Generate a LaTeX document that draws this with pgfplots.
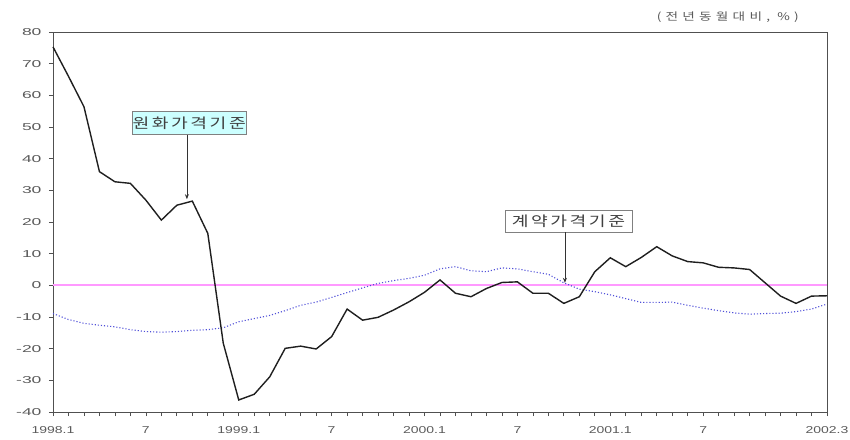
\documentclass[border=0pt]{standalone}
\usepackage{pgfplots}
\pgfplotsset{compat=1.18}
\usetikzlibrary{arrows.meta}
\usepackage{fontspec}
\setmainfont{Liberation Sans}
\newfontfamily\yticks[FakeStretch=1.75]{Liberation Sans}
\newfontfamily\xticks[FakeStretch=1.4]{Liberation Sans}
\newfontfamily\kr[FakeStretch=1.3, LetterSpace=18]{Noto Sans CJK KR}
\newfontfamily\krs[FakeStretch=1.3, LetterSpace=40]{Noto Sans CJK KR}
\definecolor{axisgray}{HTML}{505050}
\definecolor{txtgray}{HTML}{5A5A5A}
\definecolor{dotblue}{HTML}{5050D8}
\definecolor{boxcyan}{HTML}{CCFFFF}
\definecolor{zeropink}{rgb}{1,0.6,1}

% 월별 전년동월대비 증감률 (%), x = 0 (1998.1) ... 50 (2002.3)
\pgfplotstableread{
i won contract
0 75.3 -8.9
1 66.0 -10.8
2 56.4 -12.0
3 35.9 -12.6
4 32.7 -13.1
5 32.2 -14.0
6 26.9 -14.6
7 20.6 -14.8
8 25.3 -14.6
9 26.6 -14.2
10 16.4 -14.0
11 -18.3 -13.4
12 -36.2 -11.5
13 -34.4 -10.5
14 -28.9 -9.5
15 -19.9 -8.0
16 -19.2 -6.3
17 -20.1 -5.3
18 -16.2 -3.8
19 -7.5 -2.3
20 -11.0 -0.8
21 -10.1 0.6
22 -7.8 1.5
23 -5.2 2.2
24 -2.2 3.2
25 1.7 5.2
26 -2.5 5.9
27 -3.6 4.6
28 -1.0 4.3
29 0.9 5.5
30 1.1 5.2
31 -2.5 4.3
32 -2.5 3.5
33 -5.7 0.8
34 -3.6 -1.2
35 4.3 -2.0
36 8.7 -3.0
37 5.9 -4.2
38 8.8 -5.4
39 12.2 -5.4
40 9.3 -5.3
41 7.5 -6.3
42 7.1 -7.2
43 5.7 -8.0
44 5.5 -8.7
45 5.0 -9.1
46 0.8 -8.9
47 -3.4 -8.8
48 -5.7 -8.3
49 -3.4 -7.5
50 -3.3 -5.9
}\datatable

\begin{document}
\begin{tikzpicture}
\useasboundingbox (-53pt,-27pt) rectangle (797pt,412pt);
\begin{axis}[
    scale only axis,
    width=774pt, height=380pt,
    xmin=0, xmax=50,
    ymin=-40, ymax=80,
    axis line style={axisgray, line width=0.9pt},
    tick style={axisgray, line width=0.7pt},
    tick align=outside,
    xtick pos=bottom, ytick pos=left,
    major tick length=4pt, minor tick length=4pt,
    xtick={0,6,12,18,24,30,36,42,50},
    xticklabels={1998.1,7,1999.1,7,2000.1,7,2001.1,7,2002.3},
    minor xtick={0,...,50},
    ytick={-40,-30,...,80},
    yticklabel style={font=\yticks\fontsize{10}{12}\selectfont, text=txtgray, xshift=-4pt},
    xticklabel style={font=\xticks\fontsize{10}{12}\selectfont, text=txtgray, yshift=-7pt},
    /pgf/number format/assume math mode=true,
    clip=false,
]
\addplot[color=zeropink, line width=2pt, mark=none] table[row sep=\\] {x y\\ 0 0\\ 50 0\\};
\addplot[draw=dotblue, dotted, line width=1.1pt] table[x=i, y=contract] {\datatable};
\addplot[draw=black!88, line width=1.4pt] table[x=i, y=won] {\datatable};

\node[draw=gray, fill=boxcyan, minimum width=112pt, minimum height=23pt, inner sep=0pt,
      font=\kr\fontsize{14}{15}\selectfont, text=black!75]
      (b1) at (axis cs:8.8,51.2) {원화가격기준};
\draw[-{Stealth[length=5pt,width=4pt]}, black!80, line width=0.8pt]
      (axis cs:8.65,47.6) -- (axis cs:8.65,27.2);

\node[draw=gray, fill=white, minimum width=127pt, minimum height=22pt, inner sep=0pt,
      font=\kr\fontsize{14}{15}\selectfont, text=black!75]
      (b2) at (axis cs:33.3,20.3) {계약가격기준};
\draw[-{Stealth[length=5pt,width=4pt]}, black!80, line width=0.8pt]
      (axis cs:33.07,16.8) -- (axis cs:33.07,0.8);

\node[anchor=east, font=\krs\fontsize{10.5}{12}\selectfont, text=txtgray]
      at (axis cs:48.4,84.7) {(전년동월대비, \%)};
\end{axis}
\end{tikzpicture}
\end{document}
